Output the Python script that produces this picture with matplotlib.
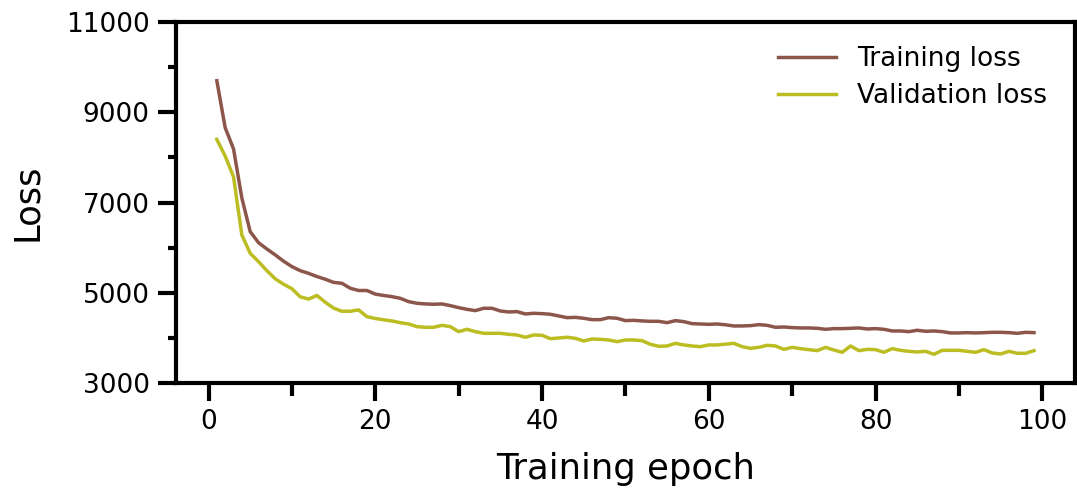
import matplotlib
matplotlib.use("Agg")
import matplotlib.pyplot as plt
from matplotlib.ticker import FixedLocator, MultipleLocator

epochs = list(range(1, 100))

training_loss = [
    9700, 8660, 8190, 7100, 6355, 6110, 5970, 5840, 5700, 5580,
    5490, 5430, 5360, 5300, 5230, 5210, 5100, 5050, 5050, 4970,
    4940, 4914, 4877, 4803, 4767, 4752, 4745, 4752, 4715, 4670,
    4633, 4604, 4656, 4656, 4596, 4574, 4582, 4530, 4545, 4537,
    4523, 4486, 4448, 4455, 4434, 4404, 4404, 4448, 4434, 4382,
    4389, 4375, 4367, 4367, 4337, 4382, 4360, 4315, 4308, 4300,
    4308, 4290, 4264, 4264, 4271, 4293, 4278, 4234, 4241, 4227,
    4220, 4220, 4212, 4190, 4205, 4205, 4212, 4220, 4197, 4205,
    4190, 4153, 4153, 4138, 4168, 4146, 4153, 4138, 4109, 4109,
    4116, 4109, 4116, 4123, 4123, 4116, 4101, 4123, 4116,
]

validation_loss = [
    8400, 8030, 7570, 6280, 5875, 5690, 5490, 5310, 5190, 5090,
    4910, 4860, 4940, 4790, 4660, 4590, 4590, 4620, 4470, 4430,
    4400, 4375, 4337, 4308, 4249, 4234, 4234, 4278, 4249, 4138,
    4190, 4138, 4101, 4101, 4101, 4079, 4064, 4013, 4064, 4057,
    3982, 3997, 4013, 3990, 3931, 3975, 3968, 3953, 3916, 3953,
    3953, 3938, 3857, 3813, 3820, 3879, 3843, 3820, 3805, 3843,
    3843, 3860, 3879, 3805, 3768, 3790, 3835, 3820, 3746, 3790,
    3761, 3739, 3717, 3790, 3731, 3680, 3820, 3717, 3746, 3739,
    3680, 3761, 3724, 3702, 3687, 3702, 3636, 3724, 3724, 3724,
    3702, 3680, 3739, 3665, 3643, 3702, 3658, 3658, 3717,
]

y_major_ticks = [3000, 5000, 7000, 9000, 11000]
y_minor_ticks = [4000, 6000, 8000, 10000]
x_label = "Training epoch"
y_label = "Loss"
series_names = ["Training loss", "Validation loss"]
colors = ["#8c564b", "#bcbd22"]

fig = plt.figure(figsize=(10.77, 4.91), dpi=100)
ax = fig.add_axes([0.1634, 0.22, 0.8346, 0.735])

ax.plot(epochs, training_loss, color=colors[0], lw=2.5, label=series_names[0])
ax.plot(epochs, validation_loss, color=colors[1], lw=2.5, label=series_names[1])

ax.set_ylim(3000, 11000)
ax.set_xlim(-3.9, 103.9)
ax.yaxis.set_major_locator(FixedLocator(y_major_ticks))
ax.yaxis.set_minor_locator(FixedLocator(y_minor_ticks))
ax.xaxis.set_major_locator(MultipleLocator(20))
ax.xaxis.set_minor_locator(MultipleLocator(10))

for s in ax.spines.values():
    s.set_linewidth(3.0)

ax.tick_params(axis="both", which="major", direction="out", length=13, width=3.0,
               labelsize=19, pad=6)
ax.tick_params(axis="x", which="minor", direction="out", length=9.5, width=3.0)
ax.tick_params(axis="y", which="minor", direction="out", length=5.5, width=3.0)

ax.set_xlabel(x_label, fontsize=25.5, labelpad=12)
ax.set_ylabel(y_label, fontsize=25.5, labelpad=16)

ax.legend(loc="upper right", bbox_to_anchor=(0.9955, 1.0), frameon=False,
          fontsize=19, handlelength=2.2, handletextpad=0.8, labelspacing=0.42)

fig.savefig("out.png", dpi=100)
